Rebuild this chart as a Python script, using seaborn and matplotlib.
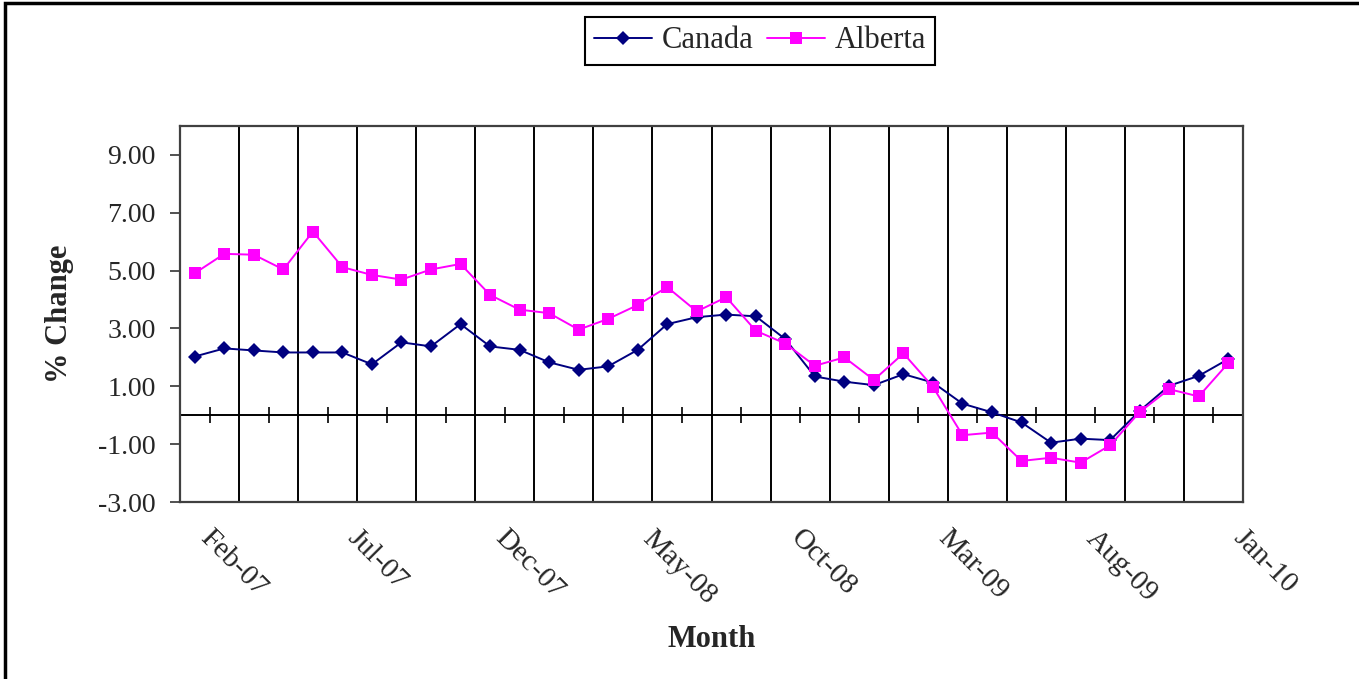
import numpy as np
import pandas as pd
import matplotlib.pyplot as plt
import seaborn as sns
from matplotlib.patches import Rectangle
from matplotlib.ticker import FormatStrFormatter


months = ['Feb-07', 'Mar-07', 'Apr-07', 'May-07', 'Jun-07', 'Jul-07', 'Aug-07', 'Sep-07',
          'Oct-07', 'Nov-07', 'Dec-07', 'Jan-08', 'Feb-08', 'Mar-08', 'Apr-08', 'May-08',
          'Jun-08', 'Jul-08', 'Aug-08', 'Sep-08', 'Oct-08', 'Nov-08', 'Dec-08', 'Jan-09',
          'Feb-09', 'Mar-09', 'Apr-09', 'May-09', 'Jun-09', 'Jul-09', 'Aug-09', 'Sep-09',
          'Oct-09', 'Nov-09', 'Dec-09', 'Jan-10']

canada = [2.03, 2.31, 2.24, 2.17, 2.17, 2.17, 1.76, 2.52, 2.38, 3.15, 2.38, 2.26,
          1.83, 1.57, 1.69, 2.26, 3.15, 3.39, 3.48, 3.42, 2.63, 1.34, 1.16, 1.04,
          1.42, 1.13, 0.40, 0.10, -0.25, -0.95, -0.81, -0.86, 0.15, 1.02, 1.36, 1.94]

alberta = [4.91, 5.58, 5.55, 5.04, 6.35, 5.12, 4.85, 4.69, 5.04, 5.23, 4.16, 3.65,
           3.53, 2.96, 3.33, 3.81, 4.43, 3.59, 4.08, 2.92, 2.48, 1.71, 2.00, 1.22,
           2.14, 0.98, -0.69, -0.60, -1.58, -1.47, -1.64, -1.04, 0.11, 0.90, 0.65, 1.80]

regions = ['Canada', 'Alberta']
colors = {'Canada': '#000080', 'Alberta': '#FF00FF'}
y_ticks = [-3, -1, 1, 3, 5, 7, 9]


df = pd.DataFrame({'Month': months, 'Canada': canada, 'Alberta': alberta})
df['idx'] = range(len(df))
long_df = df.melt(id_vars=['Month', 'idx'], var_name='Region', value_name='Change')


sns.set_style('ticks')
plt.rcParams['font.family'] = ['Liberation Serif', 'DejaVu Serif']

W, H = 1359, 679
fig = plt.figure(figsize=(W / 100, H / 100), dpi=100)
ax = fig.add_axes([180 / W, 1 - 502 / H, (1243 - 180) / W, (502 - 126) / H])

sns.lineplot(data=long_df, x='idx', y='Change', hue='Region', style='Region',
             hue_order=regions, style_order=regions, palette=colors,
             markers={'Canada': 'D', 'Alberta': 's'}, dashes=False, sort=False,
             linewidth=1.4, markeredgewidth=0, legend=False, ax=ax)

# marker sizes differ per series
ax.lines[0].set_markersize(7)
ax.lines[1].set_markersize(8.5)
handles = list(ax.lines[:2])

ax.set_xlim(-0.5, len(months) - 0.5)
ax.set_ylim(-3, 10)
ax.set_yticks(y_ticks)
ax.yaxis.set_major_formatter(FormatStrFormatter('%.2f'))

pos = np.arange(len(months))
ax.set_xticks(pos[::5])
ax.set_xticklabels(months[::5])
ax.set_xticks(pos[1:-1:2] + 0.5, minor=True)
ax.grid(which='minor', axis='x', color='black', linewidth=1.4)
ax.grid(which='major', visible=False)

ax.tick_params(axis='x', which='both', length=0, pad=30, labelsize=21)
ax.tick_params(axis='y', direction='out', length=7.5, width=1.2, pad=10,
               labelsize=20, left=True, color='#333333')
plt.setp(ax.get_xticklabels(), rotation=-45, ha='left', va='bottom',
         rotation_mode='anchor')

for sp in ax.spines.values():
    sp.set_visible(True)
    sp.set_color('#404040')
    sp.set_linewidth(1.6)

# x axis crossing at zero with cross tick marks
zero_ax = ax.secondary_xaxis(3 / 13)
zero_ax.set_xticks(pos[:-1:2] + 0.5)
zero_ax.tick_params(direction='inout', length=12, width=1.2, color='black',
                    labelbottom=False, labeltop=False)
for sp in zero_ax.spines.values():
    sp.set_color('black')
    sp.set_linewidth(1.4)

ax.set_xlabel('Month', fontsize=22, fontweight='bold')
ax.xaxis.set_label_coords(0.5, (502 - 625) / 376)
ax.set_ylabel('% Change', fontsize=22, fontweight='bold')
ax.yaxis.set_label_coords((74 - 180) / 1063, 0.5)

leg = fig.legend(handles, regions, loc='center', bbox_to_anchor=(760 / W, 1 - 41 / H),
                 ncol=2, fontsize=22, frameon=True, fancybox=False, edgecolor='black',
                 framealpha=1, handlelength=1.9, handletextpad=0.3, columnspacing=0.45,
                 borderpad=0.3, borderaxespad=0)
leg.get_frame().set_linewidth(1.5)

# outer chart border (left and top visible)
fig.patches.append(Rectangle((5 / W, -0.5), 2, 1.5 - 3 / H, transform=fig.transFigure,
                             fill=False, edgecolor='black', linewidth=2.5))

fig.savefig('out.png', dpi=100)
